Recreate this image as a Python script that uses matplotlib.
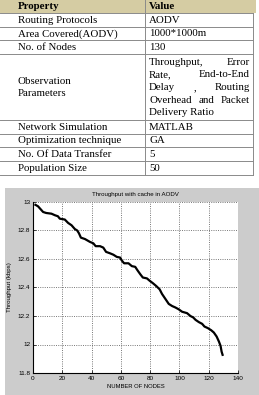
import matplotlib
matplotlib.use('Agg')
import matplotlib.pyplot as plt
from matplotlib.patches import Rectangle

# ---------------- data ----------------
header = ["Property", "Value"]
properties = ["Routing Protocols", "Area Covered(AODV)", "No. of Nodes",
              "Observation\nParameters", "Network Simulation",
              "Optimization technique", "No. Of Data Transfer", "Population Size"]
values = ["AODV", "1000*1000m", "130", None, "MATLAB", "GA", "5", "50"]
obs_lines = [["Throughput,", "Error"], ["Rate,", "End-to-End"],
             ["Delay", ",", "Routing"], ["Overhead", "and", "Packet"],
             ["Delivery Ratio"]]

chart_title = "Throughput with cache in AODV"
x_label = "NUMBER OF NODES"
y_label = "Throughput (kbps)"
x_ticks = [0, 20, 40, 60, 80, 100, 120, 140]
y_ticks = [11.8, 12.0, 12.2, 12.4, 12.6, 12.8, 13.0]
y_tick_labels = ["11.8", "12", "12.2", "12.4", "12.6", "12.8", "13"]

nodes = [1, 3.4, 6.9, 9, 12.6, 15, 17, 18.3, 21.7, 24, 26.3, 28.6, 30.2, 31.4,
         32.7, 35.5, 38.9, 41.2, 42.8, 45.8, 48, 49.9, 52.6, 54.9, 57.2, 59.5,
         60.6, 62.2, 65.2, 67.5, 69.8, 71.4, 73.2, 75, 77.8, 79.6, 81.9, 84.2,
         86.5, 88.1, 90.4, 92.7, 95, 97.2, 99.5, 101.8, 105.2, 107.5, 109.4,
         111, 113.3, 115.5, 117.1, 119.4, 121.7, 123.5, 125.4, 127, 128.1,
         128.8, 129.7]
throughput = [12.984, 12.97, 12.93, 12.923, 12.918, 12.907, 12.90, 12.883,
              12.877, 12.853, 12.837, 12.81, 12.80, 12.78, 12.75, 12.74, 12.72,
              12.71, 12.69, 12.69, 12.68, 12.65, 12.64, 12.63, 12.615, 12.61,
              12.59, 12.57, 12.57, 12.55, 12.545, 12.52, 12.494, 12.47, 12.464,
              12.448, 12.43, 12.41, 12.387, 12.355, 12.32, 12.285, 12.27, 12.26,
              12.247, 12.23, 12.22, 12.20, 12.19, 12.173, 12.157, 12.145,
              12.126, 12.115, 12.10, 12.084, 12.056, 12.02, 11.99, 11.95, 11.92]

# ---------------- figure ----------------
W, H = 259, 395
fig = plt.figure(figsize=(W / 100, H / 100), dpi=100, facecolor='white')

# overlay axes in pixel coordinates
tab = fig.add_axes([0, 0, 1, 1])
tab.set_xlim(0, W)
tab.set_ylim(H, 0)
tab.axis('off')

row_edges = [0, 13, 27, 40, 54, 120, 134, 147, 161, 175]
col_div = 145
right_edge = 253
line_col = '#8a8a8a'
serif = 'Liberation Serif'
fs = 7.8

tab.add_patch(Rectangle((0, 0), 256, row_edges[1], facecolor='#d5cca3',
                        edgecolor='none'))
for y in row_edges[1:]:
    tab.plot([0, right_edge], [y, y], color=line_col, lw=0.7)
tab.plot([col_div, col_div], [0, row_edges[-1]], color=line_col, lw=0.7)
tab.plot([right_edge, right_edge], [row_edges[1], row_edges[-1]], color=line_col, lw=0.7)

x_left = 18
x_val = 149
x_val_right = 250
tab.text(x_left, 6.8, header[0], fontfamily=serif, fontweight='bold',
         fontsize=fs, va='center', ha='left')
tab.text(x_val, 6.8, header[1], fontfamily=serif, fontweight='bold',
         fontsize=fs, va='center', ha='left')

for i, (p, v) in enumerate(zip(properties, values)):
    yc = (row_edges[i + 1] + row_edges[i + 2]) / 2 + 0.3
    tab.text(x_left, yc, p, fontfamily=serif, fontsize=fs, va='center',
             ha='left', linespacing=1.5)
    if v is not None:
        tab.text(x_val, yc, v, fontfamily=serif, fontsize=fs, va='center',
                 ha='left')

# justified paragraph for observation parameters
fig.canvas.draw()
renderer = fig.canvas.get_renderer()
inv = tab.transData.inverted()
y0, dy = 62.3, 12.6
for li, words in enumerate(obs_lines):
    yl = y0 + li * dy
    if len(words) == 1:
        tab.text(x_val, yl, words[0], fontfamily=serif, fontsize=fs,
                 va='center', ha='left')
        continue
    arts = [tab.text(0, yl, w, fontfamily=serif, fontsize=fs, va='center',
                     ha='left') for w in words]
    widths = []
    for a in arts:
        bb = a.get_window_extent(renderer)
        (xa, _), (xb, _) = inv.transform([(bb.x0, 0), (bb.x1, 0)])
        widths.append(xb - xa)
    gap = (x_val_right - x_val - sum(widths)) / (len(words) - 1)
    xpos = x_val
    for a, w in zip(arts, widths):
        a.set_x(xpos)
        xpos += w + gap

# gray chart background
tab.add_patch(Rectangle((5, 188), 254, H - 188, facecolor='#cccccc',
                        edgecolor='none', zorder=0))

# ---------------- chart ----------------
ax_l, ax_r, ax_t, ax_b = 33, 238, 202, 373
ax = fig.add_axes([ax_l / W, (H - ax_b) / H, (ax_r - ax_l) / W, (ax_b - ax_t) / H])
ax.set_facecolor('white')
ax.plot(nodes, throughput, color='black', lw=1.6, solid_capstyle='butt')
ax.set_xlim(0, 140)
ax.set_ylim(11.8, 13.0)
ax.set_xticks(x_ticks)
ax.set_yticks(y_ticks)
ax.set_yticklabels(y_tick_labels)
sans = 'Liberation Sans'
for lab in ax.get_xticklabels() + ax.get_yticklabels():
    lab.set_fontfamily(sans)
    lab.set_fontsize(4.6)
ax.tick_params(direction='in', length=2, width=0.5, pad=2, colors='black')
ax.grid(True, linestyle=(0, (1.2, 1.5)), color='#666666', lw=0.6)
for s in ['top', 'right']:
    ax.spines[s].set_visible(False)
for s in ['left', 'bottom']:
    ax.spines[s].set_linewidth(0.8)
ax.set_title(chart_title, fontfamily=sans, fontsize=4.4, pad=4)
ax.set_xlabel(x_label, fontfamily=sans, fontsize=4.2, labelpad=2)
ax.set_ylabel(y_label, fontfamily=sans, fontsize=4.4, labelpad=4)

fig.savefig('out.png', dpi=100, facecolor='white')
